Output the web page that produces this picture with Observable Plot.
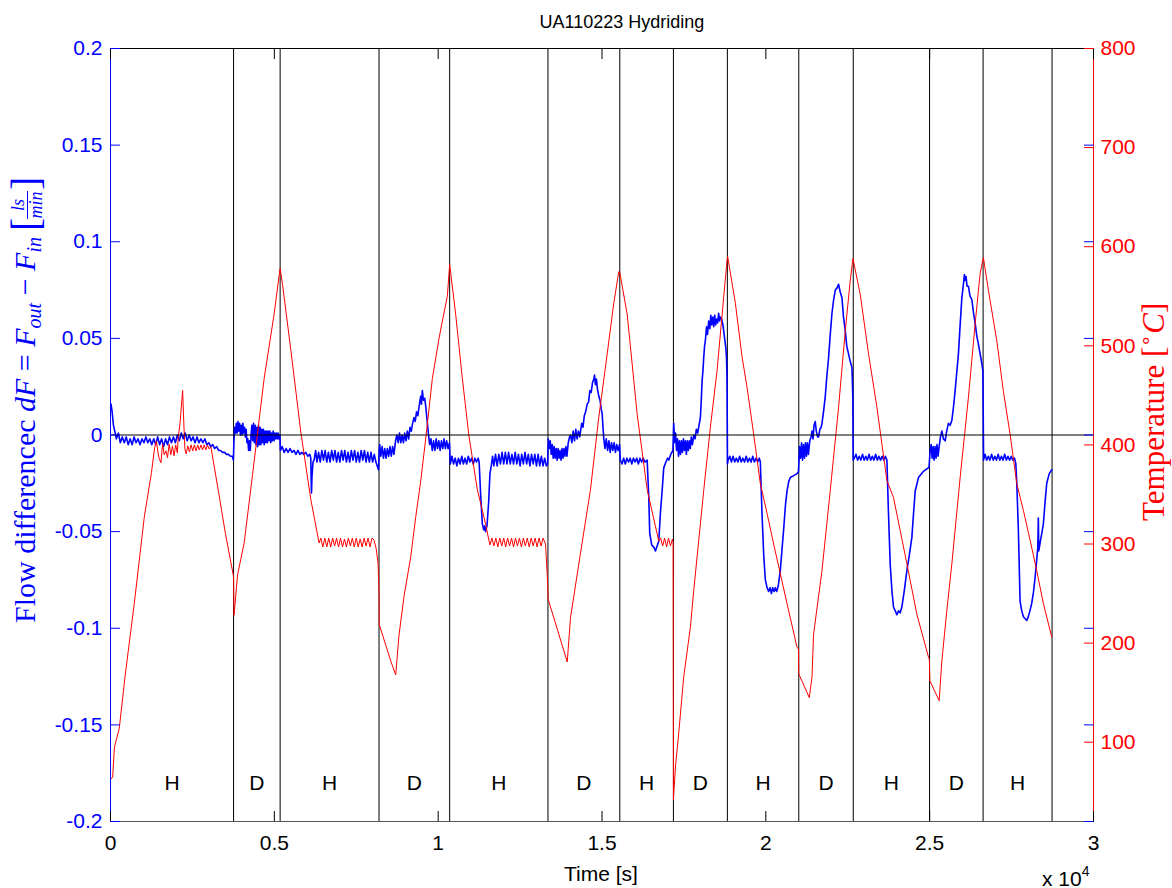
<!DOCTYPE html>
<html><head><meta charset="utf-8">
<script src="https://cdn.jsdelivr.net/npm/d3@7"></script>
<script src="https://cdn.jsdelivr.net/npm/@observablehq/plot@0.6"></script>
<style>html,body{margin:0;padding:0;background:#fff;} #chart{width:1172px;height:888px;}</style>
</head><body><div id="chart"></div>
<script>
// ---------- data ----------
const titleText = "UA110223 Hydriding";
const xDomain = [0, 30000];
const flowDomain = [-0.2, 0.2];
const tempDomain = [20, 800];
const xTicks = [0, 5000, 10000, 15000, 20000, 25000, 30000];
const flowTicks = [-0.2, -0.15, -0.1, -0.05, 0, 0.05, 0.1, 0.15, 0.2];
const tempTicks = [100, 200, 300, 400, 500, 600, 700, 800];
const phaseBounds = [3756, 5177, 8195, 10351, 13351, 15543, 17180, 18826, 21006, 22668, 24997, 26631, 28735];
const phaseLabels = ["H","D","H","D","H","D","H","D","H","D","H","D","H"];

// Temperature [°C] vs time [s]
const tempPts = [
[20,63],[67,65],[120,95],[268,114],[450,168],[726,240],[1030,327],[1250,372],[1346,397],[1400,404],[1450,392],[1488,386],[1540,382],[1590,401],[1640,390],[1692,394],[1740,387],[1790,401],[1840,390],[1890,399],[1940,389],[1990,400],[2040,392],[2068,408],[2120,421],[2201,455],[2240,420],[2271,396],[2310,391],[2360,399],[2410,393],[2460,400],[2510,394],[2560,400],[2610,394],[2660,400],[2710,395],[2760,400],[2810,395],[2860,400],[2910,395],[2960,400],[3010,396],[3064,398],[3300,352],[3500,312],[3756,267],[3770,228],[3878,269],[4079,301],[4335,370],[4689,467],[4994,532],[5150,572],[5177,578],
[5249,562],[5503,496],[5808,413],[6113,345],[6366,301],
[6420,306],[6480,297],[6540,306],[6600,297],[6660,306],[6720,297],[6780,306],[6840,298],[6900,306],[6960,297],[7020,306],[7080,297],[7140,305],[7200,297],[7260,306],[7320,298],[7380,306],[7440,297],[7500,306],[7560,297],[7620,305],[7680,297],[7740,306],[7800,298],[7860,306],[7920,297],[7980,306],[8043,304],
[8110,295],[8165,281],[8195,251],[8200,219],[8552,182],[8704,168],[8805,208],[8957,247],[9162,287],[9314,327],[9466,363],[9619,406],[9823,467],[10024,507],[10128,525],[10280,550],[10351,582],
[10534,532],[10738,467],[10939,409],[11195,355],[11448,320],[11579,299],
[11640,306],[11700,298],[11760,306],[11820,297],[11880,306],[11940,298],[12000,306],[12060,297],[12120,306],[12180,298],[12240,306],[12300,297],[12360,306],[12420,298],[12480,306],[12540,297],[12600,306],[12660,298],[12720,306],[12780,297],[12840,306],[12900,298],[12960,306],[13020,297],[13080,306],[13140,298],[13200,306],[13277,300],
[13329,269],[13360,244],[13939,181],[14040,226],[14345,291],[14649,355],[14902,428],[15159,492],[15360,543],[15512,575],[15543,574],
[15768,532],[16073,431],[16378,355],[16732,303],
[16790,306],[16850,298],[16910,306],[16970,297],[17030,306],[17090,298],[17150,305],[17171,301],
[17180,42],[17241,75],[17341,109],[17494,166],[17698,216],[17799,253],[17902,287],[18104,354],[18308,418],[18512,475],[18713,549],[18817,586],[18835,590],
[19070,543],[19274,489],[19427,458],[19628,411],[19832,361],[20037,331],[20238,300],[20442,270],[20646,240],[20951,196],[20995,194],[21005,169],[21326,145],[21409,166],[21457,209],[21713,273],[21966,354],[22220,438],[22424,515],[22576,566],[22659,588],
[22881,552],[23134,492],[23390,438],[23695,364],[23896,347],[24305,280],[24610,229],[24963,186],[24990,184],[25005,162],[25290,142],[25372,182],[25524,233],[25677,280],[25930,367],[26183,448],[26387,522],[26540,573],[26640,589],
[26793,556],[27049,505],[27250,454],[27454,411],[27659,361],[27860,334],[28064,304],[28268,273],[28470,240],[28726,206]
];

// Flow difference [ls/min] vs time [s]
const flowPts = [
[15,0.016],[50,0.012],[90,0.005],[130,0.002],[180,-0.002],[240,0.001],[300,-0.004],[360,-0.001],[420,-0.004],[480,-0.001],[540,-0.005],[600,-0.002],[660,-0.005],[720,-0.001],[780,-0.004],[840,-0.002],[900,-0.005],[960,-0.002],[1020,-0.004],[1080,-0.001],[1140,-0.004],[1200,-0.002],[1260,-0.005],[1320,-0.002],[1380,-0.005],[1440,-0.001],[1500,-0.005],[1560,-0.002],[1620,-0.006],[1680,-0.002],[1740,-0.005],[1800,-0.001],[1860,-0.004],[1920,-0.001],[1980,-0.004],[2040,0.000],[2100,-0.003],[2160,0.001],[2220,-0.002],[2280,0.001],[2340,-0.003],[2400,0.000],[2460,-0.003],[2520,-0.001],[2580,-0.004],[2640,-0.001],[2700,-0.004],[2760,-0.002],[2820,-0.004],[2880,-0.002],[2940,-0.005],[3000,-0.004],[3060,-0.006],[3120,-0.005],[3180,-0.007],[3240,-0.006],[3300,-0.008],[3360,-0.008],[3420,-0.009],[3480,-0.009],[3540,-0.010],[3600,-0.010],[3660,-0.011],[3720,-0.011],[3750,-0.013],
[3765,-0.004],[3790,0.004],[3815,0.001],[3840,0.006],[3865,0.001],[3890,0.007],[3915,0.002],[3940,0.006],[3965,0.000],[3990,0.005],[4015,0.000],[4040,0.006],[4065,0.001],[4090,0.004],[4115,-0.001],[4140,0.003],[4165,-0.004],[4190,-0.002],[4215,-0.008],[4240,-0.003],[4265,-0.008],[4290,0.000],[4315,0.005],[4340,-0.003],[4365,0.006],[4390,-0.004],[4415,0.005],[4440,-0.005],[4465,0.004],[4490,-0.006],[4515,0.005],[4540,-0.005],[4565,0.004],[4590,-0.005],[4615,0.003],[4640,-0.004],[4665,0.003],[4690,-0.005],[4715,0.002],[4740,-0.004],[4765,0.002],[4790,-0.004],[4815,0.002],[4840,-0.003],[4865,0.002],[4890,-0.004],[4915,0.001],[4940,-0.003],[4965,0.002],[4990,-0.003],[5015,0.001],[5040,-0.002],[5065,0.001],[5090,-0.002],[5115,0.001],[5140,-0.002],[5170,0.000],
[5185,-0.008],[5240,-0.006],[5300,-0.009],[5360,-0.007],[5420,-0.009],[5480,-0.007],[5540,-0.009],[5600,-0.008],[5660,-0.010],[5720,-0.008],[5780,-0.010],[5840,-0.009],[5900,-0.010],[5960,-0.009],[6020,-0.011],[6080,-0.010],[6113,-0.012],[6125,-0.024],[6134,-0.030],[6150,-0.021],[6180,-0.014],[6213,-0.013],[6260,-0.008],[6300,-0.014],[6350,-0.009],[6400,-0.014],[6450,-0.008],[6500,-0.013],[6550,-0.008],[6600,-0.014],[6650,-0.009],[6700,-0.014],[6750,-0.008],[6800,-0.013],[6850,-0.008],[6900,-0.014],[6950,-0.009],[7000,-0.014],[7050,-0.008],[7100,-0.013],[7150,-0.008],[7200,-0.014],[7250,-0.009],[7300,-0.014],[7350,-0.008],[7400,-0.013],[7450,-0.008],[7500,-0.014],[7550,-0.009],[7600,-0.014],[7650,-0.008],[7700,-0.013],[7750,-0.008],[7800,-0.014],[7850,-0.009],[7900,-0.014],[7950,-0.009],[8000,-0.014],[8050,-0.010],[8100,-0.014],[8140,-0.016],[8180,-0.018],[8200,-0.008],
[8216,-0.005],[8250,-0.011],[8290,-0.006],[8330,-0.012],[8370,-0.007],[8410,-0.012],[8450,-0.007],[8490,-0.011],[8530,-0.006],[8570,-0.011],[8610,-0.006],[8650,-0.010],[8700,-0.003],[8740,0.000],[8780,-0.004],[8820,0.001],[8860,-0.004],[8900,0.000],[8940,-0.004],[8980,0.001],[9020,-0.003],[9060,0.002],[9100,-0.002],[9140,0.004],[9180,0.002],[9220,0.006],[9262,0.009],[9300,0.007],[9340,0.012],[9380,0.010],[9420,0.015],[9466,0.020],[9490,0.016],[9518,0.023],[9550,0.018],[9590,0.019],[9619,0.015],[9660,0.008],[9700,0.001],[9740,-0.005],[9780,-0.002],[9820,-0.008],[9860,-0.003],[9900,-0.008],[9940,-0.002],[9980,-0.007],[10020,-0.003],[10060,-0.008],[10100,-0.003],[10140,-0.007],[10180,-0.002],[10220,-0.007],[10260,-0.003],[10300,-0.007],[10345,-0.004],
[10370,-0.015],[10420,-0.011],[10470,-0.015],[10520,-0.012],[10570,-0.016],[10620,-0.012],[10670,-0.015],[10720,-0.011],[10770,-0.015],[10820,-0.012],[10870,-0.015],[10920,-0.011],[10970,-0.014],[11020,-0.012],[11070,-0.015],[11120,-0.012],[11170,-0.014],[11220,-0.012],[11250,-0.014],[11300,-0.032],[11348,-0.046],[11390,-0.049],[11420,-0.047],[11448,-0.050],[11490,-0.047],[11540,-0.035],[11580,-0.020],[11620,-0.016],[11660,-0.011],[11700,-0.016],[11750,-0.010],[11800,-0.016],[11850,-0.010],[11900,-0.015],[11950,-0.009],[12000,-0.015],[12050,-0.009],[12100,-0.015],[12150,-0.009],[12200,-0.015],[12250,-0.010],[12300,-0.015],[12350,-0.009],[12400,-0.015],[12450,-0.010],[12500,-0.016],[12550,-0.010],[12600,-0.015],[12650,-0.009],[12700,-0.015],[12750,-0.010],[12800,-0.016],[12850,-0.010],[12900,-0.015],[12950,-0.010],[13000,-0.016],[13050,-0.010],[13100,-0.016],[13150,-0.011],[13200,-0.016],[13250,-0.012],[13300,-0.016],[13340,-0.015],
[13360,-0.002],[13390,-0.007],[13420,-0.003],[13450,-0.010],[13480,-0.005],[13510,-0.012],[13540,-0.006],[13570,-0.012],[13600,-0.007],[13630,-0.013],[13660,-0.007],[13690,-0.012],[13720,-0.008],[13750,-0.013],[13780,-0.007],[13810,-0.012],[13840,-0.007],[13870,-0.011],[13900,-0.006],[13930,-0.011],[13970,-0.004],[14010,-0.001],[14040,0.000],[14080,-0.004],[14120,0.002],[14160,-0.003],[14200,0.003],[14240,-0.002],[14280,0.002],[14320,-0.001],[14345,0.002],[14380,0.006],[14420,0.004],[14460,0.010],[14500,0.012],[14549,0.016],[14590,0.017],[14630,0.023],[14670,0.022],[14710,0.027],[14750,0.029],[14771,0.031],[14800,0.026],[14830,0.029],[14860,0.024],[14902,0.020],[14940,0.018],[14980,0.013],[15006,0.011],[15030,0.004],[15055,-0.002],[15090,-0.007],[15130,-0.002],[15170,-0.008],[15210,-0.003],[15250,-0.009],[15290,-0.004],[15330,-0.008],[15370,-0.004],[15410,-0.009],[15450,-0.005],[15490,-0.008],[15535,-0.005],
[15560,-0.013],[15610,-0.015],[15660,-0.012],[15710,-0.015],[15760,-0.012],[15810,-0.014],[15860,-0.012],[15910,-0.015],[15960,-0.012],[16010,-0.014],[16060,-0.012],[16110,-0.015],[16160,-0.012],[16210,-0.014],[16260,-0.012],[16310,-0.014],[16378,-0.013],[16427,-0.032],[16457,-0.051],[16520,-0.057],[16580,-0.058],[16631,-0.060],[16690,-0.057],[16732,-0.055],[16784,-0.040],[16835,-0.029],[16884,-0.017],[16950,-0.014],[17000,-0.012],[17037,-0.013],[17100,-0.010],[17165,-0.008],
[17189,0.006],[17215,-0.004],[17245,0.001],[17275,-0.008],[17305,-0.002],[17335,-0.011],[17365,-0.003],[17395,-0.010],[17425,-0.003],[17455,-0.009],[17485,-0.002],[17515,-0.008],[17545,-0.003],[17575,-0.010],[17605,-0.003],[17635,-0.008],[17665,-0.003],[17695,-0.007],[17725,-0.001],[17760,-0.005],[17800,0.000],[17840,-0.002],[17880,0.003],[17920,0.001],[17960,0.005],[18003,0.009],[18030,0.018],[18055,0.028],[18080,0.033],[18104,0.040],[18130,0.046],[18156,0.049],[18190,0.056],[18220,0.052],[18256,0.059],[18290,0.055],[18320,0.062],[18350,0.057],[18380,0.061],[18410,0.056],[18440,0.062],[18470,0.057],[18500,0.060],[18530,0.058],[18560,0.063],[18590,0.059],[18613,0.061],[18650,0.060],[18690,0.057],[18713,0.054],[18750,0.049],[18780,0.045],[18800,0.040],[18815,0.030],[18822,0.009],[18830,-0.015],
[18850,-0.013],[18900,-0.011],[18950,-0.014],[19000,-0.011],[19050,-0.014],[19100,-0.012],[19150,-0.014],[19200,-0.011],[19250,-0.014],[19300,-0.012],[19350,-0.014],[19400,-0.011],[19450,-0.014],[19500,-0.012],[19550,-0.014],[19600,-0.011],[19650,-0.014],[19700,-0.012],[19750,-0.014],[19800,-0.012],[19832,-0.014],[19884,-0.041],[19935,-0.062],[19985,-0.075],[20037,-0.079],[20085,-0.081],[20130,-0.079],[20170,-0.082],[20210,-0.079],[20250,-0.081],[20290,-0.079],[20330,-0.081],[20380,-0.078],[20442,-0.070],[20490,-0.060],[20543,-0.049],[20600,-0.036],[20646,-0.029],[20700,-0.024],[20747,-0.022],[20850,-0.021],[20951,-0.020],[20995,-0.019],
[21030,-0.006],[21060,-0.012],[21090,-0.004],[21120,-0.013],[21150,-0.005],[21180,-0.012],[21210,-0.004],[21240,-0.011],[21270,-0.004],[21300,-0.010],[21340,-0.003],[21380,-0.001],[21409,0.002],[21440,-0.002],[21470,0.005],[21509,0.007],[21540,0.002],[21580,-0.001],[21610,-0.001],[21650,0.003],[21690,0.004],[21713,0.006],[21760,0.012],[21814,0.020],[21860,0.030],[21915,0.040],[21966,0.052],[22018,0.063],[22070,0.070],[22119,0.075],[22170,0.076],[22220,0.078],[22270,0.074],[22323,0.071],[22370,0.061],[22424,0.054],[22470,0.046],[22524,0.042],[22576,0.038],[22628,0.035],[22655,0.020],[22665,-0.013],
[22700,-0.012],[22750,-0.010],[22800,-0.013],[22850,-0.011],[22900,-0.013],[22950,-0.010],[23000,-0.013],[23050,-0.011],[23100,-0.013],[23150,-0.010],[23200,-0.013],[23250,-0.011],[23300,-0.013],[23350,-0.010],[23400,-0.013],[23450,-0.011],[23500,-0.013],[23550,-0.011],[23600,-0.013],[23650,-0.011],[23695,-0.013],[23744,-0.041],[23796,-0.067],[23850,-0.081],[23896,-0.089],[23950,-0.091],[24000,-0.093],[24050,-0.091],[24100,-0.092],[24152,-0.089],[24230,-0.080],[24305,-0.070],[24380,-0.062],[24457,-0.053],[24510,-0.040],[24558,-0.029],[24659,-0.022],[24800,-0.019],[24915,-0.0175],[24980,-0.0167],
[25015,-0.008],[25045,-0.005],[25075,-0.012],[25105,-0.006],[25135,-0.013],[25165,-0.006],[25195,-0.012],[25225,-0.005],[25255,-0.011],[25290,-0.006],[25330,-0.001],[25372,0.002],[25420,-0.002],[25473,-0.003],[25520,0.002],[25573,0.006],[25625,0.005],[25677,0.0075],[25730,0.015],[25777,0.023],[25830,0.033],[25878,0.042],[25930,0.057],[25982,0.071],[26030,0.078],[26060,0.083],[26082,0.080],[26110,0.082],[26140,0.077],[26183,0.077],[26230,0.072],[26287,0.070],[26340,0.063],[26387,0.058],[26440,0.051],[26488,0.047],[26540,0.042],[26591,0.037],[26625,0.033],
[26645,-0.013],[26690,-0.010],[26740,-0.013],[26790,-0.011],[26840,-0.013],[26890,-0.010],[26940,-0.013],[26990,-0.011],[27040,-0.013],[27090,-0.010],[27140,-0.013],[27190,-0.011],[27240,-0.013],[27290,-0.010],[27340,-0.013],[27390,-0.011],[27440,-0.013],[27490,-0.011],[27540,-0.013],[27590,-0.012],[27630,-0.015],[27659,-0.025],[27707,-0.049],[27759,-0.086],[27810,-0.091],[27860,-0.094],[27910,-0.095],[27963,-0.096],[28010,-0.094],[28060,-0.091],[28116,-0.087],[28170,-0.081],[28216,-0.074],[28270,-0.064],[28300,-0.058],[28317,-0.043],[28330,-0.060],[28369,-0.056],[28420,-0.051],[28470,-0.046],[28520,-0.035],[28573,-0.025],[28650,-0.020],[28726,-0.018]
];

// ---------- helpers (map temperature onto the shared y scale) ----------
const toFlow = v => flowDomain[0] + (v - tempDomain[0]) * (flowDomain[1] - flowDomain[0]) / (tempDomain[1] - tempDomain[0]);
const fromFlow = y => tempDomain[0] + (y - flowDomain[0]) * (tempDomain[1] - tempDomain[0]) / (flowDomain[1] - flowDomain[0]);
const starts = [xDomain[0], ...phaseBounds.slice(0, -1)];
const phases = phaseLabels.map((label, i) => ({label, mid: (starts[i] + phaseBounds[i]) / 2}));

const BLUE = "#0000ff", RED = "#ff0000";
const sans = "'Liberation Sans', Arial, Helvetica, sans-serif";
const serif = "'Liberation Serif', 'Times New Roman', serif";

const plot = Plot.plot({
  width: 1172, height: 888,
  marginLeft: 110, marginRight: 79, marginTop: 48, marginBottom: 67,
  x: {domain: xDomain},
  y: {domain: flowDomain},
  style: {fontFamily: sans, fontSize: "21px", background: "#fff", color: "#000", overflow: "visible"},
  marks: [
    Plot.ruleX(phaseBounds, {stroke: "#000", strokeWidth: 1}),
    Plot.line(flowPts, {x: d => d[0], y: d => d[1], stroke: BLUE, strokeWidth: 1.6}),
    Plot.line(tempPts, {x: d => d[0], y: d => toFlow(d[1]), stroke: RED, strokeWidth: 1}),
    Plot.ruleY([0], {stroke: "#000", strokeWidth: 1}),
    Plot.text(phases, {x: "mid", text: "label", frameAnchor: "bottom", dy: -32, fontSize: 21, fill: "#000"}),
    // frame
    Plot.ruleY([flowDomain[1]], {stroke: "#000"}),
    Plot.ruleY([flowDomain[0]], {stroke: "#555"}),
    Plot.ruleX([xDomain[0]], {stroke: BLUE}),
    Plot.ruleX([xDomain[1]], {stroke: RED}),
    // left (flow) axis
    Plot.axisY(flowTicks, {anchor: "left", tickSize: 10, dx: 10, tickFormat: () => "", color: BLUE, label: null}),
    Plot.axisY(flowTicks, {anchor: "left", tickSize: 0, tickPadding: 8, tickFormat: d => String(+d.toFixed(2)), color: BLUE, label: null, fontSize: 21}),
    Plot.axisY(flowTicks, {anchor: "right", tickSize: 10, dx: -10, tickFormat: () => "", color: BLUE, label: null}),
    // right (temperature) axis
    Plot.axisY(tempTicks.map(toFlow), {anchor: "right", tickSize: 10, dx: -10, tickFormat: () => "", color: RED, label: null}),
    Plot.axisY(tempTicks.map(toFlow), {anchor: "right", tickSize: 0, tickPadding: 7, tickFormat: d => String(Math.round(fromFlow(d))), color: RED, label: null, fontSize: 21}),
    // x axis
    Plot.axisX(xTicks, {anchor: "bottom", tickSize: 10, dy: -10, tickFormat: () => "", color: "#000", label: null}),
    Plot.axisX(xTicks, {anchor: "top", tickSize: 10, dy: 10, tickFormat: () => "", color: "#000", label: null}),
    Plot.axisX(xTicks, {anchor: "bottom", tickSize: 0, tickPadding: 14, tickFormat: d => String(d / 10000), color: "#000", label: null, fontSize: 21})
  ]
});
document.getElementById("chart").appendChild(plot);

// ---------- titles and axis labels (real text) ----------
const svg = d3.select(plot);
svg.append("text").attr("x", 622).attr("y", 28).attr("text-anchor", "middle")
  .attr("font-family", sans).attr("font-size", 18).attr("fill", "#000").text(titleText);

svg.append("text").attr("x", 601).attr("y", 881).attr("text-anchor", "middle")
  .attr("font-family", sans).attr("font-size", 21).attr("fill", "#000").text("Time [s]");

const xe = svg.append("text").attr("x", 1042).attr("y", 886).attr("text-anchor", "start")
  .attr("font-family", sans).attr("font-size", 21).attr("fill", "#000");
xe.append("tspan").text("x 10");
xe.append("tspan").attr("font-size", 14).attr("dy", -10).text("4");

// left label
const gl = svg.append("g").attr("transform", "translate(35,623) rotate(-90)")
  .attr("fill", BLUE).attr("font-family", serif).attr("text-anchor", "start");
const t1 = gl.append("text").attr("x", 0).attr("y", 0).attr("font-size", 30);
t1.append("tspan").text("Flow differencec ");
t1.append("tspan").attr("font-style", "italic").text("dF");
t1.append("tspan").text(" = ");
t1.append("tspan").attr("font-style", "italic").text("F");
t1.append("tspan").attr("font-style", "italic").attr("font-size", 20).attr("dy", 6).text("out");
t1.append("tspan").attr("dy", -6).text(" \u2212 ");
t1.append("tspan").attr("font-style", "italic").text("F");
t1.append("tspan").attr("font-style", "italic").attr("font-size", 20).attr("dy", 6).text("in");
const L = t1.node().getComputedTextLength();
const fx = L + 6;
gl.append("text").attr("x", fx).attr("y", 4).attr("font-size", 40).attr("font-weight", 100).text("[");
gl.append("text").attr("x", fx + 26).attr("y", -11).attr("font-size", 18).attr("font-style", "italic").attr("text-anchor", "middle").text("ls");
gl.append("line").attr("x1", fx + 12).attr("x2", fx + 40).attr("y1", -7.5).attr("y2", -7.5).attr("stroke", BLUE).attr("stroke-width", 1);
gl.append("text").attr("x", fx + 26).attr("y", 7).attr("font-size", 18).attr("font-style", "italic").attr("text-anchor", "middle").text("min");
gl.append("text").attr("x", fx + 41).attr("y", 4).attr("font-size", 40).attr("font-weight", 100).text("]");

// right label
const gr = svg.append("g").attr("transform", "translate(1164,521) rotate(-90)")
  .attr("fill", RED).attr("font-family", serif).attr("text-anchor", "start");
const t2 = gr.append("text").attr("x", 0).attr("y", 0).attr("font-size", 31);
t2.append("tspan").text("Temperature [");
t2.append("tspan").attr("font-size", 20).attr("dy", -11).text("\u2218");
t2.append("tspan").attr("dy", 11).attr("font-style", "italic").text("C");
t2.append("tspan").text("]");
</script>
</body></html>
